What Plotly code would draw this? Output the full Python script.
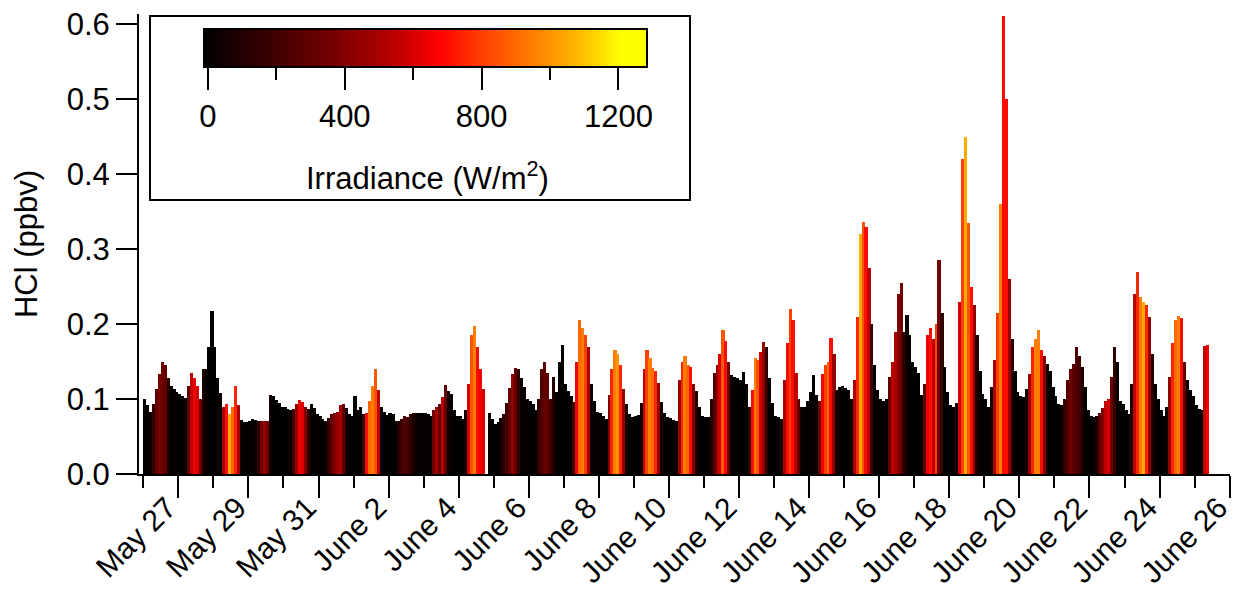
import pandas as pd
import plotly.graph_objects as go

# ---------------- data (2-hour bins, centred on 01,03,...,23 h local) ----------------
# HCl mixing ratio (ppbv), one row per day starting May 26
hcl_ppbv = [
    0.100, 0.092, 0.083, 0.094, 0.114, 0.134, 0.150, 0.145, 0.128, 0.118, 0.113, 0.109,  # May 26
    0.107, 0.104, 0.101, 0.118, 0.135, 0.128, 0.118, 0.100, 0.140, 0.140, 0.170, 0.218,  # May 27
    0.169, 0.128, 0.108, 0.090, 0.093, 0.080, 0.090, 0.117, 0.092, 0.072, 0.069, 0.069,  # May 28
    0.071, 0.073, 0.072, 0.071, 0.071, 0.071, 0.071, 0.105, 0.104, 0.099, 0.095, 0.090,  # May 29
    0.089, 0.087, 0.085, 0.087, 0.094, 0.099, 0.096, 0.090, 0.087, 0.093, 0.088, 0.080,  # May 30
    0.078, 0.073, 0.071, 0.075, 0.080, 0.082, 0.083, 0.092, 0.094, 0.088, 0.080, 0.078,  # May 31
    0.104, 0.085, 0.090, 0.080, 0.082, 0.097, 0.118, 0.140, 0.112, 0.089, 0.083, 0.079,  # June 1
    0.082, 0.080, 0.071, 0.071, 0.074, 0.078, 0.076, 0.080, 0.081, 0.081, 0.082, 0.082,  # June 2
    0.082, 0.080, 0.078, 0.085, 0.089, 0.093, 0.103, 0.119, 0.111, 0.107, 0.085, 0.077,  # June 3
    0.077, 0.074, 0.085, 0.120, 0.185, 0.198, 0.170, 0.140, 0.113, None, 0.082, 0.074,   # June 4
    0.067, 0.069, 0.075, 0.080, 0.095, 0.115, 0.133, 0.142, 0.140, 0.128, 0.116, 0.100,  # June 5
    0.098, 0.093, 0.085, 0.100, 0.140, 0.150, 0.135, 0.100, 0.129, 0.110, 0.150, 0.172,  # June 6
    0.120, 0.111, 0.104, 0.096, 0.150, 0.205, 0.195, 0.185, 0.170, 0.120, 0.098, 0.083,  # June 7
    0.081, 0.078, 0.074, 0.105, 0.140, 0.165, 0.160, 0.145, 0.113, 0.093, 0.080, 0.076,  # June 8
    0.078, 0.079, 0.095, 0.140, 0.165, 0.155, 0.142, 0.138, 0.122, 0.096, 0.082, 0.076,  # June 9
    0.075, 0.072, 0.071, 0.125, 0.150, 0.158, 0.145, 0.143, 0.120, 0.111, 0.090, 0.078,  # June 10
    0.076, 0.076, 0.100, 0.135, 0.145, 0.160, 0.192, 0.178, 0.150, 0.132, 0.130, 0.128,  # June 11
    0.125, 0.136, 0.120, 0.090, 0.112, 0.155, 0.152, 0.163, 0.176, 0.169, 0.128, 0.095,  # June 12
    0.078, 0.076, 0.074, 0.125, 0.175, 0.220, 0.205, 0.135, 0.100, 0.089, 0.089, 0.098,  # June 13
    0.110, 0.132, 0.105, 0.097, 0.134, 0.145, 0.150, 0.182, 0.160, 0.112, 0.116, 0.118,  # June 14
    0.115, 0.112, 0.100, 0.125, 0.210, 0.320, 0.337, 0.330, 0.275, 0.200, 0.145, 0.112,  # June 15
    0.100, 0.098, 0.100, 0.130, 0.150, 0.190, 0.240, 0.255, 0.190, 0.212, 0.185, 0.150,  # June 16
    0.143, 0.135, 0.105, 0.120, 0.185, 0.195, 0.180, 0.200, 0.285, 0.215, 0.143, 0.110,  # June 17
    0.092, 0.090, 0.095, 0.230, 0.420, 0.450, 0.335, 0.250, 0.226, 0.185, 0.138, 0.107,  # June 18
    0.100, 0.090, 0.116, 0.152, 0.215, 0.360, 0.612, 0.500, 0.260, 0.180, 0.138, 0.110,  # June 19
    0.104, 0.103, 0.114, 0.134, 0.170, 0.180, 0.192, 0.165, 0.158, 0.147, 0.138, 0.116,  # June 20
    0.104, 0.094, 0.092, 0.100, 0.125, 0.140, 0.147, 0.170, 0.158, 0.143, 0.116, 0.085,  # June 21
    0.077, 0.076, 0.078, 0.081, 0.088, 0.098, 0.100, 0.130, 0.170, 0.150, 0.098, 0.094,  # June 22
    0.085, 0.080, 0.120, 0.240, 0.270, 0.236, 0.230, 0.226, 0.210, 0.160, 0.120, 0.100,  # June 23
    0.085, 0.078, 0.090, 0.130, 0.175, 0.205, 0.211, 0.208, 0.150, 0.125, 0.112, 0.104,  # June 24
    0.092, 0.087, 0.085, 0.171, 0.172,                                                   # June 25
]

# Solar irradiance (W/m2), same bins
irradiance_wm2 = [
    0, 0, 20, 150, 300, 380, 350, 300, 120, 10, 0, 0,        # May 26
    0, 0, 30, 300, 550, 650, 600, 350, 80, 0, 0, 0,          # May 27
    0, 0, 20, 500, 700, 1050, 900, 750, 500, 30, 0, 0,       # May 28
    0, 0, 10, 150, 350, 450, 350, 30, 0, 0, 0, 0,            # May 29
    0, 0, 10, 200, 450, 650, 620, 400, 150, 10, 0, 0,        # May 30
    0, 0, 10, 150, 300, 400, 450, 500, 300, 50, 0, 0,        # May 31
    0, 0, 10, 150, 700, 900, 950, 850, 550, 30, 0, 0,        # June 1
    0, 0, 5, 120, 200, 250, 220, 150, 80, 10, 0, 0,          # June 2
    0, 0, 10, 350, 500, 300, 550, 300, 30, 0, 0, 0,          # June 3
    0, 0, 50, 600, 850, 950, 700, 650, 600, 0, 0, 0,         # June 4
    0, 0, 30, 150, 200, 300, 450, 300, 150, 10, 0, 0,        # June 5
    0, 0, 10, 150, 250, 300, 300, 200, 100, 0, 0, 0,         # June 6
    0, 0, 10, 200, 650, 900, 950, 800, 500, 30, 0, 0,        # June 7
    0, 0, 10, 400, 750, 950, 1000, 750, 450, 40, 0, 0,       # June 8
    0, 0, 50, 550, 800, 950, 900, 750, 450, 60, 0, 0,        # June 9
    0, 0, 30, 450, 750, 950, 900, 700, 400, 100, 0, 0,       # June 10
    0, 0, 100, 250, 450, 600, 850, 700, 350, 20, 0, 0,       # June 11
    0, 0, 0, 150, 700, 950, 850, 600, 450, 150, 0, 0,        # June 12
    0, 0, 50, 500, 700, 800, 700, 550, 300, 30, 0, 0,        # June 13
    0, 0, 20, 350, 650, 800, 900, 700, 450, 80, 0, 0,        # June 14
    0, 0, 20, 500, 750, 1050, 850, 700, 550, 200, 0, 0,      # June 15
    0, 0, 10, 300, 550, 500, 400, 350, 150, 30, 0, 0,        # June 16
    0, 0, 20, 300, 650, 700, 550, 800, 350, 150, 0, 0,       # June 17
    0, 0, 50, 600, 800, 1050, 850, 700, 450, 100, 0, 0,      # June 18
    0, 0, 60, 500, 800, 950, 700, 700, 450, 150, 0, 0,       # June 19
    0, 0, 50, 450, 750, 950, 950, 700, 400, 80, 0, 0,        # June 20
    0, 0, 10, 150, 250, 350, 300, 250, 200, 100, 0, 0,       # June 21
    0, 0, 50, 300, 400, 550, 600, 350, 150, 20, 0, 0,        # June 22
    0, 0, 100, 550, 750, 950, 1050, 750, 450, 100, 0, 0,     # June 23
    0, 0, 30, 450, 750, 900, 950, 700, 300, 50, 0, 0,        # June 24
    0, 0, 20, 550, 650,                                      # June 25
]

first_bin = "2010-05-26 01:00"
bin_hours = 2

tick_dates = ["2010-05-27", "2010-05-29", "2010-05-31", "2010-06-02", "2010-06-04",
              "2010-06-06", "2010-06-08", "2010-06-10", "2010-06-12", "2010-06-14",
              "2010-06-16", "2010-06-18", "2010-06-20", "2010-06-22", "2010-06-24",
              "2010-06-26"]
tick_labels = ["May 27", "May 29", "May 31", "June 2", "June 4", "June 6", "June 8",
               "June 10", "June 12", "June 14", "June 16", "June 18", "June 20",
               "June 22", "June 24", "June 26"]

cbar_major = [0, 400, 800, 1200]
cbar_minor = [200, 600, 1000]

# ---------------- figure ----------------
times = pd.date_range(first_bin, periods=len(hcl_ppbv), freq=f"{bin_hours}h")

FONT = "Liberation Sans, Arial, sans-serif"
FS = 31
colorscale = [
    [0.00, "rgb(0,0,0)"], [0.10, "rgb(40,0,0)"], [0.30, "rgb(120,0,0)"],
    [0.45, "rgb(200,0,0)"], [0.53, "rgb(255,0,0)"], [0.63, "rgb(255,65,0)"],
    [0.75, "rgb(255,130,0)"], [0.86, "rgb(255,195,0)"], [0.94, "rgb(255,255,0)"],
    [1.00, "rgb(255,255,0)"],
]
CMIN, CMAX = -10, 1285

W, H = 1235, 594
ML, MR, MT, MB = 139, 5, 14, 120
PW = W - ML - MR
PH = H - MT - MB


def px_x(px):
    return (px - ML) / PW


def px_y(py):
    return 1 - (py - MT) / PH


cb_common = dict(
    orientation="h", x=px_x(426), xanchor="center", y=px_y(29), yanchor="top",
    len=443, lenmode="pixels", thickness=38, xpad=0, ypad=0,
    outlinewidth=2, outlinecolor="black", ticks="outside", tickwidth=2,
    tickcolor="black", tickmode="array",
)

fig = go.Figure()
fig.add_trace(go.Bar(
    x=times, y=hcl_ppbv,
    width=bin_hours * 3600 * 1000 * 1.08,
    marker=dict(
        color=irradiance_wm2, colorscale=colorscale, cmin=CMIN, cmax=CMAX,
        line=dict(width=0), showscale=True,
        colorbar=dict(
            **cb_common, tickvals=cbar_major, ticklen=22,
            tickfont=dict(family=FONT, size=FS, color="black"),
        ),
    ),
    hoverinfo="skip",
))
# minor ticks for the colour bar
fig.add_trace(go.Scatter(
    x=[times[0]], y=[0], mode="markers", hoverinfo="skip", showlegend=False,
    marker=dict(
        size=0.1, opacity=0, color=[0], colorscale=colorscale, cmin=CMIN, cmax=CMAX,
        showscale=True,
        colorbar=dict(**cb_common, tickvals=cbar_minor, ticklen=12,
                      showticklabels=False),
    ),
))

fig.update_layout(
    width=W, height=H,
    margin=dict(l=ML, r=MR, t=MT, b=MB),
    paper_bgcolor="white", plot_bgcolor="white",
    bargap=0, showlegend=False,
    font=dict(family=FONT, size=FS, color="black"),
    shapes=[dict(type="rect", xref="paper", yref="paper",
                 x0=px_x(150), x1=px_x(690), y0=px_y(200), y1=px_y(16),
                 line=dict(color="black", width=2), fillcolor="rgba(0,0,0,0)")],
    annotations=[dict(text="Irradiance (W/m<sup>2</sup>)", xref="paper", yref="paper",
                      x=px_x(427), y=px_y(176), xanchor="center", yanchor="middle",
                      showarrow=False, font=dict(family=FONT, size=FS, color="black"))],
)
fig.update_xaxes(
    type="date", range=["2010-05-25 21:03", "2010-06-26 00:15"],
    showline=True, linewidth=2, linecolor="black", showgrid=False, zeroline=False,
    ticks="outside", ticklen=22, tickwidth=2, tickcolor="black",
    tickmode="array", tickvals=tick_dates, ticktext=tick_labels, tickangle=-45,
    tickfont=dict(family=FONT, size=30, color="black"),
    ticklabelshift=-11, ticklabelstandoff=-20, ticklabeloverflow="allow",
    minor=dict(ticks="outside", ticklen=12, tickwidth=2, tickcolor="black",
               dtick=86400000, tick0="2010-05-26", showgrid=False),
    automargin=False,
)
fig.update_yaxes(
    range=[0, 0.614], showline=True, linewidth=2, linecolor="black",
    showgrid=False, zeroline=False,
    ticks="outside", ticklen=21, tickwidth=2, tickcolor="black",
    dtick=0.1, tick0=0, tickformat=".1f",
    tickfont=dict(family=FONT, size=FS, color="black"),
    title=dict(text="HCl (ppbv)", standoff=20,
               font=dict(family=FONT, size=FS, color="black")),
    automargin=False,
)

fig.write_html(
    "out.html",
    config={"displayModeBar": False},
    post_script="document.body.style.margin='0';document.body.style.overflow='hidden';",
)
